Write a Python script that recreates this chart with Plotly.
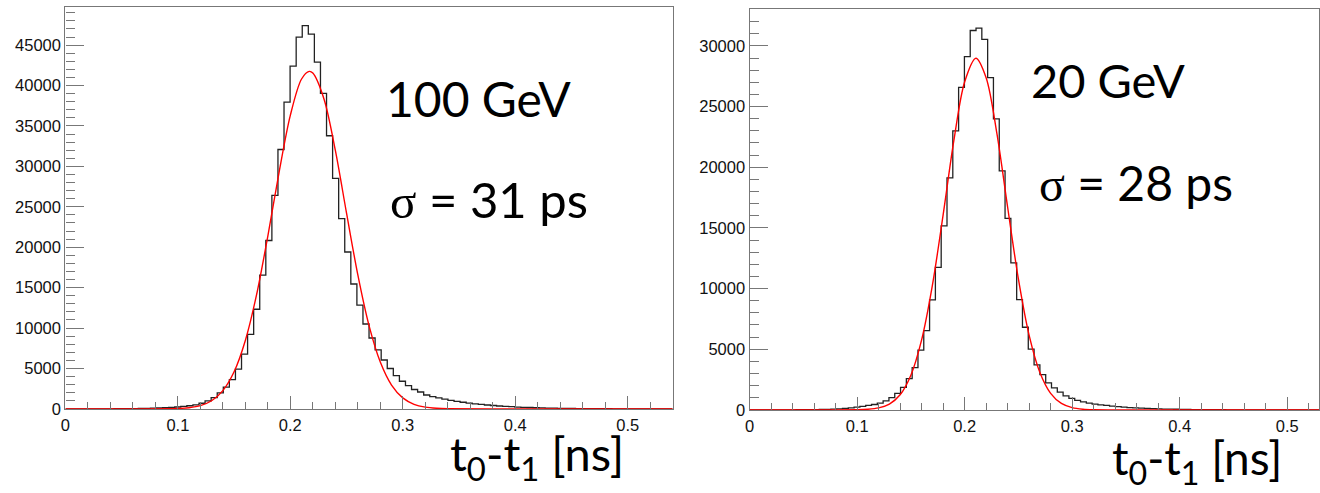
import numpy as np
import plotly.graph_objects as go

# ---------------- data ----------------
bin_width = 0.0054   # ns, 100 bins from 0 to 0.54
n_bins = 100

counts_100GeV = [
    0, 0, 0, 2, 3, 5, 8, 12, 17, 22,
    30, 40, 52, 65, 85, 110, 140, 180, 235, 300,
    390, 510, 700, 990, 1400, 1970, 2700, 3620, 4920, 6780,
    9210, 12330, 16540, 20830, 26415, 32090, 37950, 42410, 46000, 47425,
    46370, 42895, 39045, 33790, 28515, 23540, 19410, 15450, 12850, 10505,
    8770, 7310, 6050, 5000, 4110, 3420, 2890, 2400, 2090, 1720,
    1520, 1360, 1200, 1050, 930, 820, 720, 630, 550, 480,
    420, 360, 310, 270, 230, 200, 170, 145, 125, 105,
    90, 75, 62, 52, 44, 36, 30, 25, 20, 16,
    13, 10, 8, 6, 5, 4, 3, 2, 2, 1,
]

counts_20GeV = [
    0, 0, 0, 1, 2, 3, 5, 7, 10, 14,
    19, 25, 33, 45, 60, 85, 115, 160, 230, 283,
    364, 445, 550, 740, 1010, 1360, 1850, 2570, 3490, 4920,
    6540, 9070, 11740, 15170, 19130, 22990, 26580, 29110, 31270, 31460,
    30540, 27390, 23990, 19700, 15790, 12120, 9080, 6810, 5000, 3710,
    2900, 2220, 1820, 1470, 1150, 955, 790, 660, 550, 470,
    420, 364, 310, 260, 220, 190, 160, 140, 120, 100,
    85, 70, 60, 50, 42, 35, 28, 23, 18, 14,
    11, 9, 7, 5, 4, 3, 2, 2, 1, 1,
    1, 0, 0, 0, 0, 0, 0, 0, 0, 0,
]

# Gaussian fit curves
fit_x_100GeV = [0.0, 0.06, 0.10, 0.11, 0.12, 0.13, 0.14, 0.15, 0.16, 0.17, 0.18, 0.19,
                0.20, 0.21, 0.2168, 0.22, 0.23, 0.24, 0.25, 0.26, 0.27, 0.28, 0.29,
                0.30, 0.31, 0.32, 0.33, 0.34, 0.38, 0.54]
fit_y_100GeV = [0, 0, 49, 149, 406, 1006, 2262, 4593, 8470, 14130, 21380, 29270,
                36310, 40810, 41750, 41540, 38310, 32000, 24210, 16600, 10300, 5795, 2953,
                1363, 570, 216, 74, 23, 0, 0]

fit_x_20GeV = [0.0, 0.06, 0.10, 0.11, 0.12, 0.13, 0.14, 0.15, 0.16, 0.17, 0.18, 0.19,
               0.20, 0.2105, 0.22, 0.23, 0.24, 0.25, 0.26, 0.27, 0.28, 0.29, 0.30,
               0.31, 0.32, 0.36, 0.5296]
fit_y_20GeV = [0, 0, 13, 48, 162, 478, 1244, 2854, 5765, 10260, 16080, 22210,
               27030, 28980, 27370, 22780, 16700, 10790, 6141, 3083, 1362, 530, 182,
               55, 15, 0, 0]

x_ticks = [0, 0.1, 0.2, 0.3, 0.4, 0.5]

# ---------------- figure ----------------
W, H = 1320, 493
fig = go.Figure()

edges = np.arange(n_bins + 1) * bin_width


def hist_trace(counts, xa, ya):
    y = list(counts) + [counts[-1]]
    return go.Scatter(x=edges, y=y, mode="lines", line=dict(color="#222222", width=1.3, shape="hv"),
                      xaxis=xa, yaxis=ya, showlegend=False, hoverinfo="skip")


def fit_trace(xs, ys, xa, ya):
    return go.Scatter(x=xs, y=ys, mode="lines",
                      line=dict(color="#ff0000", width=1.4, shape="spline", smoothing=0.9),
                      xaxis=xa, yaxis=ya, showlegend=False, hoverinfo="skip")


fig.add_trace(hist_trace(counts_100GeV, "x", "y"))
fig.add_trace(fit_trace(fit_x_100GeV, fit_y_100GeV, "x", "y"))
fig.add_trace(hist_trace(counts_20GeV, "x2", "y2"))
fig.add_trace(fit_trace(fit_x_20GeV, fit_y_20GeV, "x2", "y2"))

axis_col = "#777777"
tick_font = dict(family="Liberation Sans, Arial, sans-serif", size=16.5, color="#111111")


def xaxis_style(dom, rng, anchor):
    return dict(domain=dom, range=rng, anchor=anchor, showgrid=False, zeroline=False,
                showline=True, linecolor=axis_col, linewidth=1.3, mirror=True,
                ticks="inside", ticklen=13, tickwidth=1.2, tickcolor=axis_col,
                tickvals=x_ticks, ticktext=[str(v) for v in x_ticks],
                minor=dict(dtick=0.02, tick0=0, ticks="inside", ticklen=6.5, tickcolor=axis_col, tickwidth=1.2),
                tickfont=tick_font, ticklabelstandoff=1, fixedrange=True)


def yaxis_style(dom, rng, anchor, top):
    vals = list(range(0, top + 1, 5000))
    return dict(domain=dom, range=rng, anchor=anchor, showgrid=False, zeroline=False,
                showline=True, linecolor=axis_col, linewidth=1.3, mirror=True,
                ticks="inside", ticklen=18, tickwidth=1.2, tickcolor=axis_col,
                tickvals=vals, ticktext=[str(v) for v in vals],
                minor=dict(dtick=1000, tick0=0, ticks="inside", ticklen=9, tickcolor=axis_col, tickwidth=1.2),
                tickfont=tick_font, fixedrange=True)


fig.update_layout(
    width=W, height=H,
    margin=dict(l=0, r=0, t=0, b=0),
    paper_bgcolor="white", plot_bgcolor="white",
    xaxis=xaxis_style([60.7 / W, 670.7 / W], [0, 0.54], "y"),
    yaxis=yaxis_style([(H - 416.5) / H, (H - 6.7) / H], [0, 49770], "x", 45000),
    xaxis2=xaxis_style([748 / W, 1.0], [0, 0.5296], "y2"),
    yaxis2=yaxis_style([(H - 417.5) / H, (H - 9.3) / H], [0, 33030], "x2", 30000),
)

txt_font = "Lato, 'Open Sans', sans-serif"
sig = "<span style='font-family:Liberation Serif, DejaVu Serif, serif'>σ</span>"

ann = [
    dict(text="100 GeV", x=381 / W, y=1 - 100 / H, size=48),
    dict(text=sig + " = 31 ps", x=385 / W, y=1 - 203 / H, size=49),
    dict(text="20 GeV", x=1029 / W, y=1 - 81 / H, size=47),
    dict(text=sig + " = 28 ps", x=1037 / W, y=1 - 186 / H, size=48),
]
for a in ann:
    fig.add_annotation(text=a["text"], x=a["x"], y=a["y"], xref="paper", yref="paper",
                       xanchor="left", yanchor="middle", showarrow=False,
                       font=dict(family=txt_font, size=a["size"], color="black"))

fig.add_annotation(text="t<sub>0</sub>-t<sub>1</sub> [ns]", x=624 / W, y=1 - 465 / H,
                   xref="paper", yref="paper", xanchor="right", yanchor="middle", showarrow=False,
                   font=dict(family=txt_font, size=47, color="black"))
fig.add_annotation(text="t<sub>0</sub>-t<sub>1</sub> [ns]", x=1285 / W, y=1 - 470 / H,
                   xref="paper", yref="paper", xanchor="right", yanchor="middle", showarrow=False,
                   font=dict(family=txt_font, size=46, color="black"))

fig.write_html("out.html")
